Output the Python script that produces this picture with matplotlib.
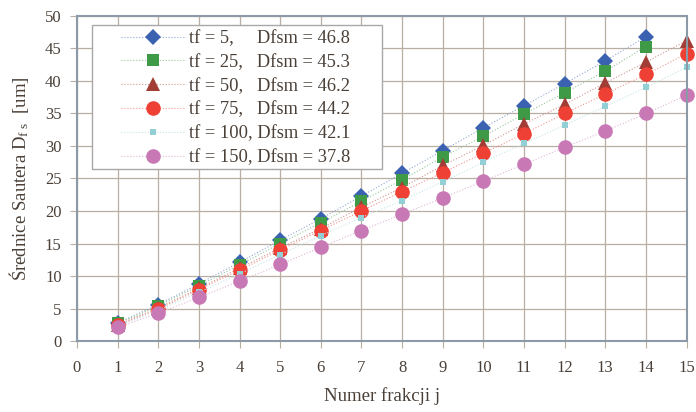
import matplotlib
matplotlib.use("Agg")
import matplotlib.pyplot as plt
import matplotlib.colors as mcolors
from matplotlib.patches import Rectangle

plt.rcParams['font.family'] = ['Liberation Serif', 'DejaVu Serif']
plt.rcParams['mathtext.fontset'] = 'custom'
plt.rcParams['mathtext.rm'] = 'Liberation Serif'
plt.rcParams['mathtext.it'] = 'Liberation Serif'

text_col = '#4a4038'

j = list(range(1, 16))

tf5 = [2.8, 5.6, 8.8, 12.1, 15.5, 18.8, 22.3, 25.8, 29.3, 32.8, 36.2, 39.6, 43.1, 46.8]
tf25 = [2.7, 5.4, 8.5, 11.7, 15.0, 18.2, 21.5, 24.8, 28.3, 31.5, 34.9, 38.2, 41.5, 45.3]
tf50 = [2.5, 5.1, 8.1, 11.2, 14.3, 17.3, 20.6, 23.6, 27.0, 30.1, 33.4, 36.4, 39.7, 42.9, 46.2]
tf75 = [2.4, 4.9, 7.9, 10.9, 14.0, 17.0, 20.0, 23.0, 25.9, 28.9, 31.9, 35.0, 38.0, 41.0, 44.2]
tf100 = [2.3, 4.7, 7.5, 10.3, 13.3, 16.2, 19.0, 21.6, 24.5, 27.5, 30.4, 33.2, 36.1, 39.0, 42.1]
tf150 = [2.1, 4.3, 6.7, 9.2, 11.8, 14.4, 17.0, 19.5, 22.0, 24.6, 27.2, 29.8, 32.3, 35.0, 37.8]

labels = ['tf = 5,     Dfsm = 46.8',
          'tf = 25,   Dfsm = 45.3',
          'tf = 50,   Dfsm = 46.2',
          'tf = 75,   Dfsm = 44.2',
          'tf = 100, Dfsm = 42.1',
          'tf = 150, Dfsm = 37.8']

series = [tf5, tf25, tf50, tf75, tf100, tf150]
colors = ['#3a62b0', '#3f9a48', '#a23d36', '#ee4034', '#92d0d6', '#c878b4']
markers = ['D', 's', '^', 'o', 's', 'o']
sizes = [8, 9, 10, 10.5, 4.5, 10.5]


def lighten(c, t):
    r, g, b = mcolors.to_rgb(c)
    return (r + (1 - r) * t, g + (1 - g) * t, b + (1 - b) * t)


fig = plt.figure(figsize=(6.96, 4.12), dpi=100)
ax = fig.add_axes([0.1106, 0.1723, 0.8758, 0.7889])

handles = []
for ys, c, m, s, lab in zip(series, colors, markers, sizes, labels):
    h, = ax.plot(j[:len(ys)], ys, linestyle=':', linewidth=0.8, color=lighten(c, 0.45),
                 marker=m, markersize=s, markerfacecolor=c, markeredgecolor=c,
                 markeredgewidth=0, label=lab, clip_on=False)
    handles.append(h)

ax.set_xlim(0, 15)
ax.set_ylim(0, 50)
ax.set_xticks(range(0, 16))
ax.set_yticks(range(0, 51, 5))
ax.grid(True, color='#b8afa2', linewidth=0.9)
ax.set_axisbelow(True)

for sp in ax.spines.values():
    sp.set_color('#8c9aa8')
    sp.set_linewidth(1.5)

ax.tick_params(axis='x', direction='out', length=5, width=0.8, color='#b8afa2',
               pad=9, labelsize=12, labelcolor=text_col)
ax.tick_params(axis='y', direction='out', length=5, width=0.8, color='#b8afa2',
               pad=6, labelsize=12, labelcolor=text_col)

ax.set_xlabel('Numer frakcji j', fontsize=13.5, color=text_col, labelpad=8)
ax.set_ylabel(r'Średnice Sautera D$_{\mathrm{f\ s}}$  [um]', fontsize=13.5,
              color=text_col, labelpad=10)

# legend box drawn separately so the padding matches the original
box = Rectangle((92 / 696, 1 - 169 / 412), 290 / 696, 144 / 412,
                transform=fig.transFigure, facecolor='white',
                edgecolor='#a8a8a8', linewidth=1.0, zorder=5)
fig.add_artist(box)

leg = fig.legend(handles=handles, labels=labels, loc='upper left',
                 bbox_to_anchor=(121 / 696, 1 - 30 / 412),
                 fontsize=13.3, frameon=False,
                 handlelength=3.5, handletextpad=0.2,
                 labelspacing=0.37, borderpad=0, borderaxespad=0)
leg.set_zorder(6)
for t in leg.get_texts():
    t.set_color(text_col)

fig.savefig('out.png', dpi=100)
